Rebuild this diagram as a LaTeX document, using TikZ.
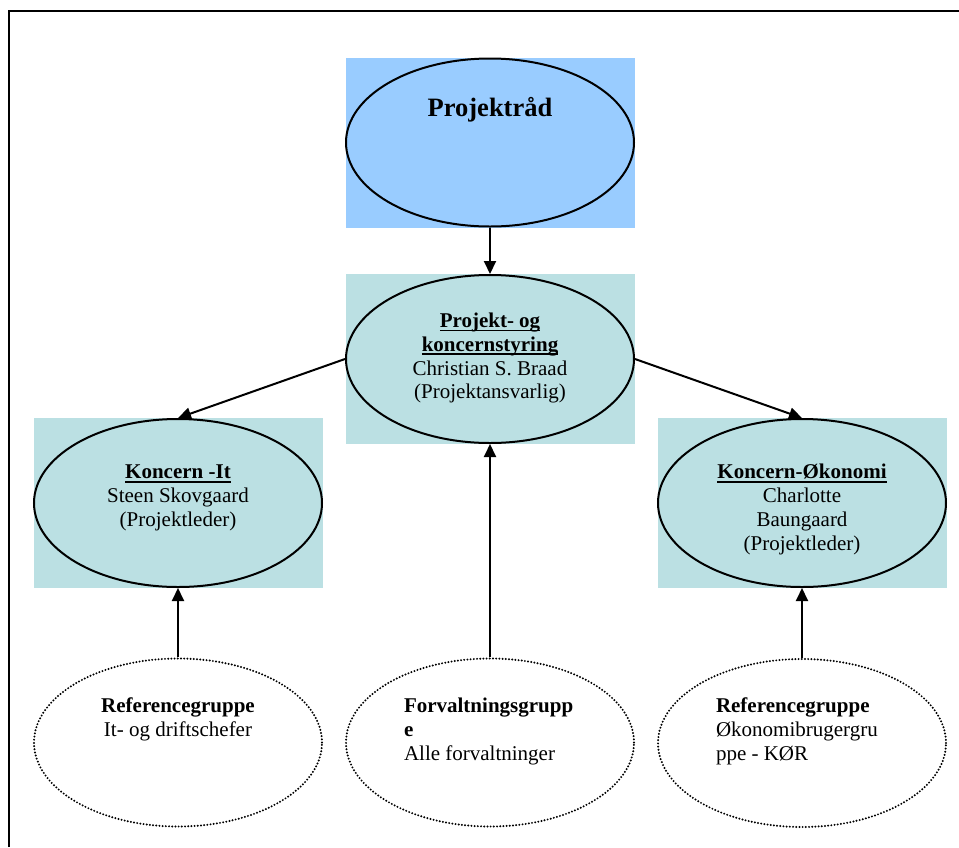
\documentclass[tikz,border=0pt]{standalone}
\usepackage{fontspec}
\setmainfont{Liberation Serif}
\usetikzlibrary{shapes.geometric,arrows.meta}
\definecolor{skyblue}{HTML}{99CCFF}
\definecolor{paleteal}{HTML}{BBE0E3}
\newcommand{\orgul}[1]{\setbox0=\hbox{#1}\rlap{\rule[-4pt]{\wd0}{1.8pt}}\box0}
\newcommand{\txtsize}{\fontsize{21}{23.8}\selectfont}

\begin{document}
\begin{tikzpicture}[x=1pt, y=-1pt, >={Triangle[length=13pt,width=12pt]}, line width=2pt]
\useasboundingbox (0,0) rectangle (959,847);

\tikzstyle{panel}=[rectangle, draw=none, minimum width=289pt, minimum height=170pt, inner sep=0pt]
\tikzstyle{oval}=[ellipse, draw=black, minimum width=288pt, minimum height=168pt, inner sep=0pt]
\tikzstyle{dotoval}=[oval, line width=2.2pt, line cap=round, dash pattern=on 0pt off 3.2pt]
\tikzstyle{txt}=[inner sep=0pt, font=\txtsize, align=center]

% frame
\draw (9,847) -- (9,10.5) -- (959,10.5);

% coloured panels
\node[panel, fill=skyblue]  (raadbox) at (490.5,142.5) {};
\node[panel, fill=paleteal] (styrbox) at (490.5,359) {};
\node[panel, fill=paleteal] (itbox)   at (178,503) {};
\node[panel, fill=paleteal] (okobox)  at (802,503) {};

\node[oval] (raad) at (490,142.5) {};
\node[oval] (styr) at (490,359) {};
\node[oval] (it)   at (178,503) {};
\node[oval] (oko)  at (802,503) {};

\node[dotoval] (ref1) at (178,742.5) {};
\node[dotoval] (forv) at (490,742.5) {};
\node[dotoval] (ref2) at (802,743) {};

% texts
\node[txt, anchor=north, font=\fontsize{26.5}{30}\selectfont\bfseries] (raadtxt) at (490,94.5) {\strut Projektråd};
\node[txt, anchor=north] (styrtxt) at (490,309.8)
  {\strut\orgul{\textbf{Projekt- og}}\\\orgul{\textbf{koncernstyring}}\\Christian S. Braad\\(Projektansvarlig)};
\node[txt, anchor=north] (ittxt) at (178,461.3)
  {\strut\orgul{\textbf{Koncern -It}}\\Steen Skovgaard\\(Projektleder)};
\node[txt, anchor=north] (okotxt) at (802,461.3)
  {\strut\orgul{\textbf{Koncern-Økonomi}}\\Charlotte\\Baungaard\\(Projektleder)};
\node[txt, anchor=north] (ref1txt) at (178,695.3)
  {\strut\textbf{Referencegruppe}\\It- og driftschefer};
\node[txt, align=left, anchor=north west] (forvtxt) at (403,695.3)
  {\strut\textbf{Forvaltningsgrupp}\\\textbf{e}\\Alle forvaltninger};
\node[txt, align=left, anchor=north west] (ref2txt) at (715,695.3)
  {\strut\textbf{Referencegruppe}\\Økonomibrugergru\\ppe - KØR};

% connectors
\draw[->] (raad.south) -- (styr.north);
\draw[->] (styr.west) -- (it.north);
\draw[->] (styr.east) -- (oko.north);
\draw[->] (ref1.north) -- (it.south);
\draw[->] (forv.north) -- (styr.south);
\draw[->] (ref2.north) -- (oko.south);

\end{tikzpicture}
\end{document}
